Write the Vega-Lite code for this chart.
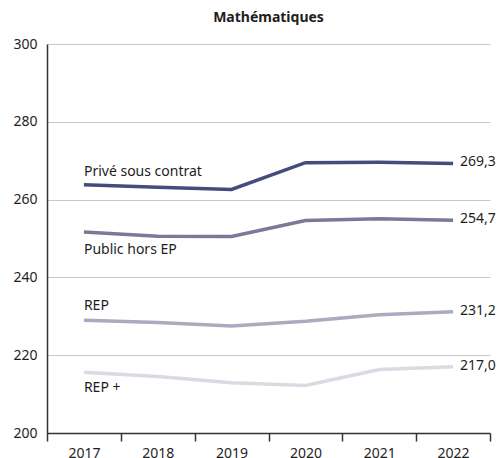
{
  "$schema": "https://vega.github.io/schema/vega-lite/v6.json",
  "width": 443,
  "height": 389,
  "autosize": {"type": "none"},
  "padding": {"left": 47, "top": 44, "right": 9, "bottom": 25},
  "background": "white",
  "title": {"text": "Mathématiques", "font": "Noto Sans", "fontSize": 14, "fontWeight": "bold", "color": "#1e1e1e", "anchor": "middle", "offset": 12},
  "config": {
    "view": {"stroke": null},
    "font": "Noto Sans"
  },
  "data": {
    "values": [
      {"annee": "2017", "serie": "Privé sous contrat", "score": 263.8},
      {"annee": "2018", "serie": "Privé sous contrat", "score": 263.2},
      {"annee": "2019", "serie": "Privé sous contrat", "score": 262.6},
      {"annee": "2020", "serie": "Privé sous contrat", "score": 269.5},
      {"annee": "2021", "serie": "Privé sous contrat", "score": 269.6},
      {"annee": "2022", "serie": "Privé sous contrat", "score": 269.3},
      {"annee": "2017", "serie": "Public hors EP", "score": 251.7},
      {"annee": "2018", "serie": "Public hors EP", "score": 250.6},
      {"annee": "2019", "serie": "Public hors EP", "score": 250.5},
      {"annee": "2020", "serie": "Public hors EP", "score": 254.6},
      {"annee": "2021", "serie": "Public hors EP", "score": 255.1},
      {"annee": "2022", "serie": "Public hors EP", "score": 254.7},
      {"annee": "2017", "serie": "REP", "score": 229.0},
      {"annee": "2018", "serie": "REP", "score": 228.4},
      {"annee": "2019", "serie": "REP", "score": 227.5},
      {"annee": "2020", "serie": "REP", "score": 228.7},
      {"annee": "2021", "serie": "REP", "score": 230.4},
      {"annee": "2022", "serie": "REP", "score": 231.2},
      {"annee": "2017", "serie": "REP +", "score": 215.6},
      {"annee": "2018", "serie": "REP +", "score": 214.5},
      {"annee": "2019", "serie": "REP +", "score": 212.9},
      {"annee": "2020", "serie": "REP +", "score": 212.2},
      {"annee": "2021", "serie": "REP +", "score": 216.3},
      {"annee": "2022", "serie": "REP +", "score": 217.0}
    ]
  },
  "encoding": {
    "x": {
      "field": "annee", "type": "ordinal",
      "scale": {"paddingInner": 0, "paddingOuter": 0},
      "axis": {
        "title": null, "labelAngle": 0, "tickBand": "extent",
        "domainColor": "#333333", "domainWidth": 1.5, "tickColor": "#333333", "tickWidth": 1.5, "tickSize": 8,
        "labelFontSize": 14, "labelColor": "#1e1e1e", "labelPadding": 5, "labelFont": "Noto Sans"
      }
    },
    "y": {
      "field": "score", "type": "quantitative",
      "scale": {"domain": [200, 300], "nice": false, "zero": false},
      "axis": {
        "title": null, "values": [200, 220, 240, 260, 280, 300],
        "domainColor": "#333333", "domainWidth": 1.5, "ticks": false,
        "grid": true, "gridColor": "#c8c8c8", "gridWidth": 1.2,
        "labelFontSize": 14, "labelColor": "#1e1e1e", "labelPadding": 10, "labelFont": "Noto Sans"
      }
    },
    "color": {
      "field": "serie", "type": "nominal", "legend": null,
      "scale": {
        "domain": ["Privé sous contrat", "Public hors EP", "REP", "REP +"],
        "range": ["#434c7d", "#787a98", "#a9abbe", "#d9dbe3"]
      }
    }
  },
  "layer": [
    {"mark": {"type": "line", "strokeWidth": 3.5, "strokeCap": "butt"}},
    {
      "transform": [{"filter": "datum.annee == '2022'"}, {"calculate": "replace(format(datum.score, '.1f'), '.', ',')", "as": "lab"}],
      "mark": {"type": "text", "align": "left", "baseline": "middle", "dx": 7, "dy": -1, "fontSize": 14, "color": "#1e1e1e"},
      "encoding": {"text": {"field": "lab"}, "color": {"value": "#1e1e1e"}}
    },
    {
      "transform": [{"filter": "datum.annee == '2017' && datum.serie == 'Privé sous contrat'"}],
      "mark": {"type": "text", "align": "left", "baseline": "middle", "dx": 0, "dy": -13, "fontSize": 14, "color": "#1e1e1e"},
      "encoding": {"text": {"field": "serie"}, "color": {"value": "#1e1e1e"}}
    },
    {
      "transform": [{"filter": "datum.annee == '2017' && datum.serie == 'Public hors EP'"}],
      "mark": {"type": "text", "align": "left", "baseline": "middle", "dx": 0, "dy": 18, "fontSize": 14, "color": "#1e1e1e"},
      "encoding": {"text": {"field": "serie"}, "color": {"value": "#1e1e1e"}}
    },
    {
      "transform": [{"filter": "datum.annee == '2017' && datum.serie == 'REP'"}],
      "mark": {"type": "text", "align": "left", "baseline": "middle", "dx": 0, "dy": -14, "fontSize": 14, "color": "#1e1e1e"},
      "encoding": {"text": {"field": "serie"}, "color": {"value": "#1e1e1e"}}
    },
    {
      "transform": [{"filter": "datum.annee == '2017' && datum.serie == 'REP +'"}],
      "mark": {"type": "text", "align": "left", "baseline": "middle", "dx": 0, "dy": 16, "fontSize": 14, "color": "#1e1e1e"},
      "encoding": {"text": {"field": "serie"}, "color": {"value": "#1e1e1e"}}
    }
  ]
}
